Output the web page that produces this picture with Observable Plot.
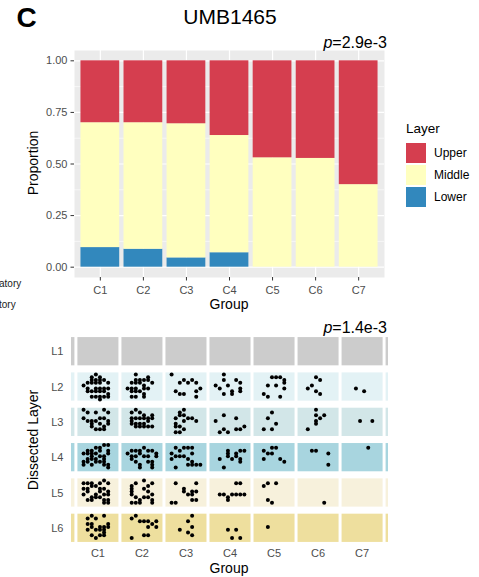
<!DOCTYPE html>
<html>
<head>
<meta charset="utf-8">
<script src="https://cdn.jsdelivr.net/npm/d3@7"></script>
<script src="https://cdn.jsdelivr.net/npm/@observablehq/plot@0.6"></script>
<style>
  body { margin: 0; background: #fff; }
  #root { position: relative; width: 479px; height: 577px; overflow: hidden; background: #fff;
          font-family: "Liberation Sans", Arial, Helvetica, sans-serif; color: #000; }
  #root svg { position: absolute; left: 0; }
  .t { position: absolute; white-space: nowrap; line-height: 1; }
  .c { transform: translate(-50%, -50%); }
  .r { transform: translate(-100%, -50%); }
  .l { transform: translate(0, -50%); }
  .rot { transform: translate(-50%, -50%) rotate(-90deg); }
  .sw { position: absolute; width: 20px; height: 20px; }
</style>
</head>
<body>
<div id="root"></div>
<script>
// ---- stacked proportions per group ----
const groups = ["C1", "C2", "C3", "C4", "C5", "C6", "C7"];
const layers = ["Upper", "Middle", "Lower"];
const layerColors = ["#D53E4F", "#FFFFBF", "#3288BD"];
const lowerShare  = [0.095, 0.087, 0.045, 0.070, 0, 0, 0];
const middleShare = [0.605, 0.613, 0.650, 0.568, 0.530, 0.527, 0.400];
const upperShare  = [0.300, 0.300, 0.305, 0.362, 0.470, 0.473, 0.600];
const proportionTicks = [0, 0.25, 0.5, 0.75, 1];
const proportionMinor = [0.125, 0.375, 0.625, 0.875];
const pTop = "2.9e-3";

// ---- dissected layers: one cell string per group, each token "xy" is a
// dot position inside the cell (x: 0 left .. 9 right, y: 0 top .. 9 bottom)
const rowLabels = ["L1", "L2", "L3", "L4", "L5", "L6"];
const rowColors = ["#CCCCCC", "#E3F2F5", "#D2E6E8", "#A8D5DF", "#F7F1DC", "#EEDF9E"];
const dotsL1 = ["", "", "", "", "", "", ""];
const dotsL2 = [
  "31 40 51 32 42 52 62 23 33 43 53 73 14 25 45 55 65 75 26 36 46 56 66 77 38 48 58 68 78 59",
  "30 61 42 32 52 62 23 33 43 54 73 15 25 35 55 65 26 36 46 57 28 38 58",
  "10 33 42 53 62 73 85 76 26 37 47 78",
  "30 32 14 25 44 62 73 75 56 76 37 57",
  "27 38 34 41 51 61 72 54 73 75 68",
  "41 52 34 25 46 57",
  "35 56"];
const dotsL3 = [
  "10 21 41 60 71 63 13 24 34 44 53 74 36 47 57 66 75 67 35 55",
  "21 30 41 52 23 33 43 53 63 72 73 64 55 45 46 36 25 35 76 24 56 66",
  "31 40 32 42 53 63 74 23 44 25 26 28 38 47 36",
  "14 32 63 37 48 28 67 77 86",
  "41 33 55 27 47",
  "40 42 53 62 44 45 27",
  "44 74"];
const dotsL4 = [
  "22 32 41 51 60 70 13 23 33 43 52 72 25 35 34 54 64 73 26 37 46 56 17 67 77 78 66 45 65 16",
  "13 22 32 42 51 62 72 83 84 76 77 78 43 54 34 24 25 36 47 48 64 66",
  "21 41 51 61 13 32 24 34 55 66 28 57 67 77 87 44 15 63",
  "42 43 63 72 82 25 55 75 76 38 44 64",
  "22 41 51 33 43 25 65 76",
  "32 42 73 77",
  "61"];
const dotsL5 = [
  "11 21 31 51 60 71 13 23 32 42 53 63 74 15 27 37 36 46 56 67 77 78 68 45 54 75 24 65",
  "22 31 50 62 71 23 24 25 36 47 56 66 77 75 64 53 28 38 48 78",
  "21 71 43 44 55 65 64 74 67 77 28 18",
  "25 35 46 47 55 65 61 71 75 85",
  "22 31 51 37 48",
  "68",
  ""];
const dotsL6 = [
  "21 30 41 60 23 34 33 54 65 64 74 73 25 45 55 37 48 57 67 66",
  "21 30 42 52 62 82 73 64 84 28 57 67",
  "60 52 64 35 56 67",
  "45 65 58 78",
  "34",
  "",
  ""];
const pBottom = "1.4e-3";

const font = '"Liberation Sans", Arial, Helvetica, sans-serif';
const tickGrey = "#4D4D4D";
const positions = groups.map((g, i) => i + 1);

// stacked rectangles, bottom to top: Lower, Middle, Upper
const barRows = [];
groups.forEach((g, i) => {
  let base = 0;
  [["Lower", lowerShare], ["Middle", middleShare], ["Upper", upperShare]].forEach(([layer, arr]) => {
    const v = arr[i];
    if (v > 0) barRows.push({pos: i + 1, layer, y1: base, y2: base + v});
    base += v;
  });
});

const proportionChart = Plot.plot({
  width: 479, height: 315,
  marginLeft: 74, marginRight: 95, marginTop: 50, marginBottom: 38,
  x: {domain: [0.4, 7.6]},
  y: {domain: [-0.05, 1.05]},
  color: {domain: layers, range: layerColors},
  style: {fontFamily: font, background: "transparent"},
  marks: [
    Plot.frame({fill: "#EBEBEB", stroke: "none"}),
    Plot.ruleY(proportionMinor, {stroke: "white", strokeWidth: 0.6}),
    Plot.ruleY(proportionTicks, {stroke: "white", strokeWidth: 1.2}),
    Plot.ruleX(positions, {stroke: "white", strokeWidth: 1.2}),
    Plot.rect(barRows, {x1: d => d.pos - 0.45, x2: d => d.pos + 0.45, y1: "y1", y2: "y2", fill: "layer"}),
    Plot.axisY({ticks: proportionTicks, tickFormat: d3.format(".2f"), tickSize: 3.5, tickPadding: 3.5,
                fontSize: 11, fill: tickGrey, stroke: "#333", label: null}),
    Plot.axisX({ticks: positions, tickFormat: i => groups[i - 1], tickSize: 3.5, tickPadding: 5,
                fontSize: 11, fill: tickGrey, stroke: "#333", label: null})
  ]
});
proportionChart.style.top = "0px";

// dot positions in data units
const cellStrings = [dotsL1, dotsL2, dotsL3, dotsL4, dotsL5, dotsL6];
const points = [];
cellStrings.forEach((cells, r) => {
  cells.forEach((s, c) => {
    s.split(" ").filter(t => t.length === 2).forEach(t => {
      const fx = 0.05 + (+t[0]) * 0.1 - 0.5;
      const fy = 0.05 + (+t[1]) * 0.1 - 0.5;
      points.push({x: c + 1 + fx * (41 / 44), y: r + 1 + fy * (28 / 35.3)});
    });
  });
});
const rowBands = rowLabels.map((l, i) => ({row: i + 1, color: rowColors[i]}));
const rowIndex = rowLabels.map((l, i) => i + 1);
const boundaries = d3.range(0.5, 8, 1);

const layerChart = Plot.plot({
  width: 479, height: 262,
  marginLeft: 71, marginRight: 91, marginTop: 15, marginBottom: 28,
  x: {domain: [0.4, 7.6]},
  y: {domain: [6.6, 0.4]},
  color: {type: "identity"},
  style: {fontFamily: font, background: "transparent"},
  marks: [
    Plot.rect(rowBands, {x1: () => 0.4, x2: () => 7.6, y1: d => d.row - 0.4, y2: d => d.row + 0.4, fill: "color"}),
    Plot.ruleX(boundaries, {stroke: "white", strokeWidth: 3}),
    Plot.dot(points, {x: "x", y: "y", r: 2, fill: "black"}),
    Plot.axisX({ticks: positions, tickFormat: i => groups[i - 1], tickSize: 0, tickPadding: 0,
                fontSize: 11, fill: tickGrey, label: null}),
    Plot.axisY({ticks: rowIndex, tickFormat: i => rowLabels[i - 1], tickSize: 0, tickPadding: 8,
                fontSize: 11, fill: tickGrey, label: null})
  ]
});
layerChart.style.top = "315px";

const root = document.getElementById("root");
root.appendChild(proportionChart);
root.appendChild(layerChart);

function text(html, x, y, cls, css) {
  const el = document.createElement("div");
  el.className = "t " + cls;
  el.innerHTML = html;
  el.style.left = x + "px";
  el.style.top = y + "px";
  Object.assign(el.style, css || {});
  root.appendChild(el);
}

text("C", 26.5, 18, "c", {fontSize: "28px", fontWeight: "bold"});
text("UMB1465", 230, 16, "c", {fontSize: "21px"});
text("<i>p</i>=" + pTop, 387, 43, "r", {fontSize: "16px"});
text("Proportion", 33, 163, "rot", {fontSize: "14px"});
text("Group", 229, 304, "c", {fontSize: "14px"});
text("atory", -1, 284, "l", {fontSize: "10px", color: "#1a1a1a"});
text("tory", -1, 305, "l", {fontSize: "10px", color: "#1a1a1a"});

// legend
text("Layer", 406, 129, "l", {fontSize: "13.5px"});
layers.forEach((l, i) => {
  const sw = document.createElement("div");
  sw.className = "sw";
  sw.style.left = "406px";
  sw.style.top = (143 + i * 22) + "px";
  sw.style.background = layerColors[i];
  root.appendChild(sw);
  text(l, 434, 153 + i * 22, "l", {fontSize: "12px"});
});

text("<i>p</i>=" + pBottom, 387, 328, "r", {fontSize: "16px"});
text("Dissected Layer", 33, 440, "rot", {fontSize: "14px"});
text("Group", 229, 568, "c", {fontSize: "14px"});
</script>
</body>
</html>
